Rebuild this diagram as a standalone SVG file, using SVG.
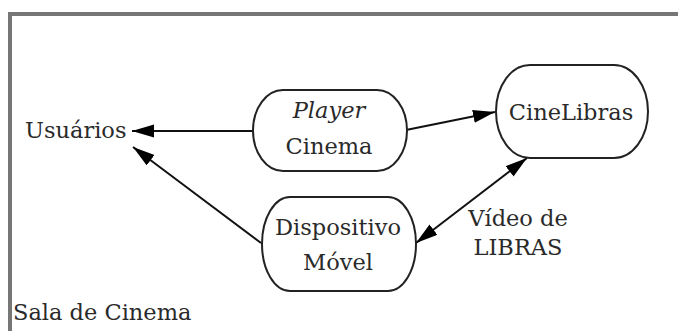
<svg xmlns="http://www.w3.org/2000/svg" width="678" height="331" viewBox="0 0 678 331">
<style>
  .t{font-family:'DejaVu Serif',serif;font-size:22.5px;fill:#2a2a2a}
  .i{font-style:italic}
  .n{fill:#fff;stroke:#222;stroke-width:2}
  .c{stroke:#111;stroke-width:2;fill:none}
  .f{stroke:#777;stroke-width:4;fill:none}
</style>
<defs>
  <marker id="ah" markerUnits="userSpaceOnUse" markerWidth="24" markerHeight="14" refX="22" refY="6.5" orient="auto-start-reverse">
    <path d="M0,0 L22,6.5 L0,13 z" fill="#000"/>
  </marker>
</defs>
<rect width="678" height="331" fill="#fff"/>
<g id="frame">
  <path class="f" d="M678,14 H10 V331"/>
  <text class="t" x="13" y="320">Sala de Cinema</text>
</g>
<g id="connectors">
  <line class="c" x1="253" y1="131" x2="132" y2="131" marker-end="url(#ah)"/>
  <line class="c" x1="261" y1="243" x2="133" y2="147" marker-end="url(#ah)"/>
  <line class="c" x1="406" y1="130" x2="495" y2="112" marker-end="url(#ah)"/>
  <line class="c" x1="416" y1="243" x2="527" y2="158" marker-start="url(#ah)" marker-end="url(#ah)"/>
  <text class="t" x="518" y="226" text-anchor="middle">Vídeo de</text>
  <text class="t" x="518" y="255" text-anchor="middle">LIBRAS</text>
</g>
<g id="usuarios">
  <text class="t" x="25" y="138">Usuários</text>
</g>
<g id="player">
  <rect class="n" x="253" y="90" width="154" height="81" rx="30" ry="40.5"/>
  <text class="t i" x="329" y="118" text-anchor="middle">Player</text>
  <text class="t" x="329" y="154" text-anchor="middle">Cinema</text>
</g>
<g id="cinelibras">
  <rect class="n" x="496" y="65" width="152" height="93" rx="34" ry="46.5"/>
  <text class="t" x="571" y="120" text-anchor="middle">CineLibras</text>
</g>
<g id="dispositivo">
  <rect class="n" x="262" y="197" width="154" height="94" rx="28" ry="47"/>
  <text class="t" x="338" y="235" text-anchor="middle">Dispositivo</text>
  <text class="t" x="338" y="270" text-anchor="middle">Móvel</text>
</g>
</svg>
